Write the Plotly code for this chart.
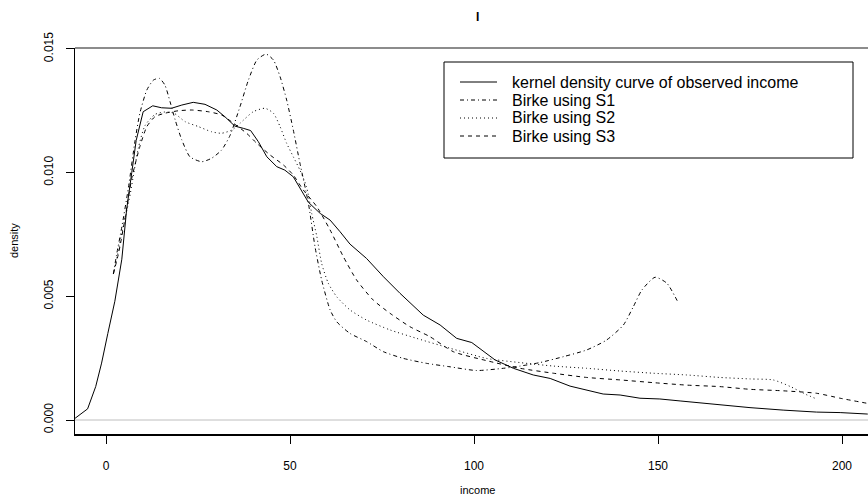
import plotly.graph_objects as go

# ---------------- data ----------------
kde_x = [-8.4, -5.0, -2.8, -1.2, 0.5, 2.4, 4.3, 5.6, 7.0, 8.2, 10.1, 12.7, 15.1, 17.8, 20.6,
         23.7, 26.9, 30.1, 32.3, 35.0, 37.3, 39.3, 41.4, 43.7, 46.4, 48.6, 50.9, 52.7, 55.0,
         58.2, 60.9, 63.6, 66.3, 70.8, 75.4, 79.9, 86.2, 90.8, 95.3, 99.4, 102.1, 105.7, 110.7,
         116.1, 120.7, 126.1, 135.1, 139.7, 145.1, 150.5, 156.0, 164.1, 175.0, 184.0, 193.1,
         199.5, 207.0]
kde_y = [0.00007, 0.00045, 0.00135, 0.0023, 0.0035, 0.0048, 0.0065, 0.0085, 0.0100, 0.0113,
         0.01246, 0.0127, 0.01262, 0.0126, 0.01273, 0.01284, 0.01276, 0.01253, 0.01226, 0.01188,
         0.01179, 0.0117, 0.01125, 0.01064, 0.01024, 0.0101, 0.00983, 0.00936, 0.0088, 0.00835,
         0.00808, 0.00761, 0.00711, 0.00653, 0.00579, 0.00512, 0.00424, 0.00384, 0.0033, 0.00313,
         0.00283, 0.00243, 0.00209, 0.00182, 0.00168, 0.00137, 0.00105, 0.00101, 0.00088, 0.00085,
         0.00077, 0.00065, 0.0005, 0.0004, 0.00032, 0.0003, 0.00024]

s1_x = [2.0, 2.9, 4.3, 6.1, 7.9, 9.2, 11.1, 12.9, 14.5, 16.0, 17.4, 18.8, 20.6, 22.8, 26.0, 28.7,
        31.4, 33.7, 36.4, 38.7, 41.0, 43.5, 45.5, 47.3, 49.1, 50.9, 52.7, 55.0, 56.8, 58.6, 60.9,
        62.7, 66.3, 70.8, 75.4, 80.8, 87.1, 93.5, 100.7, 108.0, 112.5, 117.9, 124.3, 130.6, 136.0,
        140.6, 143.3, 145.6, 149.2, 152.4, 155.5]
s1_y = [0.0059, 0.0067, 0.0078, 0.0094, 0.0113, 0.0124, 0.01334, 0.01374, 0.01381, 0.01354,
        0.01287, 0.01213, 0.01132, 0.01064, 0.01044, 0.01058, 0.01091, 0.01150, 0.01266, 0.01374,
        0.01455, 0.01479, 0.01455, 0.01388, 0.01293, 0.01172, 0.01038, 0.00876, 0.0070, 0.00566,
        0.00445, 0.00397, 0.0035, 0.00317, 0.00276, 0.00249, 0.00229, 0.00215, 0.0020, 0.00209,
        0.00218, 0.00232, 0.00256, 0.00283, 0.00323, 0.00384, 0.00458, 0.00525, 0.00577, 0.00553,
        0.00474]

s2_x = [2.0, 3.0, 4.5, 6.3, 8.8, 10.6, 13.3, 16.0, 18.5, 21.5, 25.1, 28.7, 31.4, 34.2, 36.4,
        40.0, 43.2, 45.5, 47.3, 49.1, 50.9, 52.7, 54.5, 55.9, 57.3, 58.6, 60.4, 62.7, 66.3, 70.8,
        77.2, 84.4, 93.5, 103.4, 112.5, 121.6, 130.6, 139.7, 148.7, 157.8, 166.8, 175.0, 181.3,
        186.0, 189.5, 193.1]
s2_y = [0.0059, 0.0066, 0.0077, 0.0089, 0.0110, 0.0119, 0.01235, 0.01245, 0.01240, 0.01206,
        0.01186, 0.01165, 0.01159, 0.01172, 0.01199, 0.01246, 0.0126, 0.0124, 0.01186, 0.01118,
        0.01064, 0.0101, 0.00943, 0.00835, 0.00741, 0.00633, 0.00553, 0.00498, 0.00445, 0.00404,
        0.00364, 0.0033, 0.0029, 0.00249, 0.00232, 0.00218, 0.00209, 0.00198, 0.00189, 0.00182,
        0.00172, 0.00166, 0.00162, 0.00135, 0.00108, 0.00085]

s3_x = [2.0, 3.5, 5.0, 7.0, 9.2, 11.1, 13.3, 16.0, 19.7, 23.3, 27.8, 31.4, 34.6, 38.2, 41.0,
        44.6, 48.2, 50.9, 53.6, 57.3, 60.9, 64.5, 68.1, 72.6, 77.2, 82.6, 88.0, 94.4, 103.4,
        112.5, 121.6, 130.6, 139.7, 148.7, 157.8, 166.8, 175.0, 184.0, 193.1, 199.5, 207.0]
s3_y = [0.0059, 0.0068, 0.0080, 0.00977, 0.01105, 0.01186, 0.01226, 0.0124, 0.0125, 0.01253,
        0.01246, 0.01233, 0.0120, 0.01159, 0.01118, 0.01071, 0.01031, 0.0099, 0.0093, 0.00862,
        0.00768, 0.0066, 0.00566, 0.00485, 0.00431, 0.00377, 0.00337, 0.00276, 0.0024, 0.00209,
        0.00189, 0.00172, 0.00162, 0.00151, 0.00141, 0.00135, 0.00124, 0.00118, 0.00108,
        0.00088, 0.00067]

legend_labels = ["kernel density curve of observed income", "Birke using S1",
                 "Birke using S2", "Birke using S3"]
x_ticks = [0, 50, 100, 150, 200]
y_ticks = [0.000, 0.005, 0.010, 0.015]
y_tick_labels = ["0.000", "0.005", "0.010", "0.015"]
title_text = "I"
x_title = "income"
y_title = "density"

# ---------------- layout helpers (pixel -> paper) ----------------
W, H = 868, 498
L, R, T, B = 75, 0, 48, 64
PW, PH = W - L - R, H - T - B


def px(xp):
    return (xp - L) / PW


def py(yp):
    return (H - B - yp) / PH


FONT = "Liberation Sans, Arial, Helvetica, sans-serif"
dashes = ["solid", "4px,3px,1px,3px", "1px,3px", "4px,4px"]
series = [(kde_x, kde_y), (s1_x, s1_y), (s2_x, s2_y), (s3_x, s3_y)]
smooth = [False, True, True, True]

fig = go.Figure()
for (xs, ys), name, dash, sm in zip(series, legend_labels, dashes, smooth):
    fig.add_trace(go.Scatter(
        x=xs, y=ys, mode="lines", name=name, showlegend=False, hoverinfo="skip",
        line=dict(color="black", width=1, dash=dash,
                  shape="spline" if sm else "linear", smoothing=0.6 if sm else None)))

shapes = []
# horizontal reference line at density 0
shapes.append(dict(type="line", xref="paper", yref="y", x0=0, x1=1, y0=0, y1=0,
                   line=dict(color="#bebebe", width=1), layer="below"))
# top box edge
shapes.append(dict(type="line", xref="paper", yref="paper", x0=0, x1=1, y0=1, y1=1,
                   line=dict(color="#666666", width=1.5)))
# legend box
shapes.append(dict(type="rect", xref="paper", yref="paper", x0=px(444), x1=px(853),
                   y0=py(158), y1=py(62), line=dict(color="black", width=1),
                   fillcolor="white", layer="above"))
annotations = []
row_y = [82, 100, 118, 136]
for lab, dash, ry in zip(legend_labels, dashes, row_y):
    shapes.append(dict(type="line", xref="paper", yref="paper", x0=px(460), x1=px(497),
                       y0=py(ry), y1=py(ry), line=dict(color="black", width=1, dash=dash),
                       layer="above"))
    annotations.append(dict(text=lab, xref="paper", yref="paper", x=px(510), y=py(ry),
                            xanchor="left", yanchor="middle", showarrow=False,
                            font=dict(family=FONT, size=16, color="black")))

annotations.append(dict(text="<b>" + title_text + "</b>", xref="paper", yref="paper",
                        x=px(477), y=py(17), xanchor="center", yanchor="middle",
                        showarrow=False, font=dict(family=FONT, size=12, color="black")))
annotations.append(dict(text=x_title, xref="paper", yref="paper", x=px(477), y=py(490),
                        xanchor="center", yanchor="middle", showarrow=False,
                        font=dict(family=FONT, size=11, color="black")))
annotations.append(dict(text=y_title, xref="paper", yref="paper", x=px(14), y=py(241),
                        xanchor="center", yanchor="middle", showarrow=False, textangle=-90,
                        font=dict(family=FONT, size=11, color="black")))

fig.update_layout(
    width=W, height=H, margin=dict(l=L, r=R, t=T, b=B, pad=0),
    paper_bgcolor="white", plot_bgcolor="white",
    font=dict(family=FONT, size=12, color="black"),
    shapes=shapes, annotations=annotations, showlegend=False,
    xaxis=dict(range=[(L - 106) / 3.68, (W - R - 106) / 3.68], tickvals=x_ticks,
               ticks="outside", ticklen=8, tickcolor="black", tickwidth=1,
               showline=True, linecolor="black", linewidth=1.5, showgrid=False,
               zeroline=False, ticklabelstandoff=12, tickfont=dict(size=12)),
    yaxis=dict(range=[(420 - (H - B)) / 24740, (420 - T) / 24740], tickvals=y_ticks,
               ticktext=y_tick_labels, tickangle=-90,
               ticks="outside", ticklen=8, tickcolor="black", tickwidth=1,
               showline=True, linecolor="black", linewidth=1.5, showgrid=False,
               zeroline=False, ticklabelstandoff=8, tickfont=dict(size=12)),
)

fig.write_html("out.html", config={"displayModeBar": False, "staticPlot": True},
               post_script="document.body.style.margin='0px';"
                           "document.body.style.padding='0px';"
                           "document.body.style.overflow='hidden';")
